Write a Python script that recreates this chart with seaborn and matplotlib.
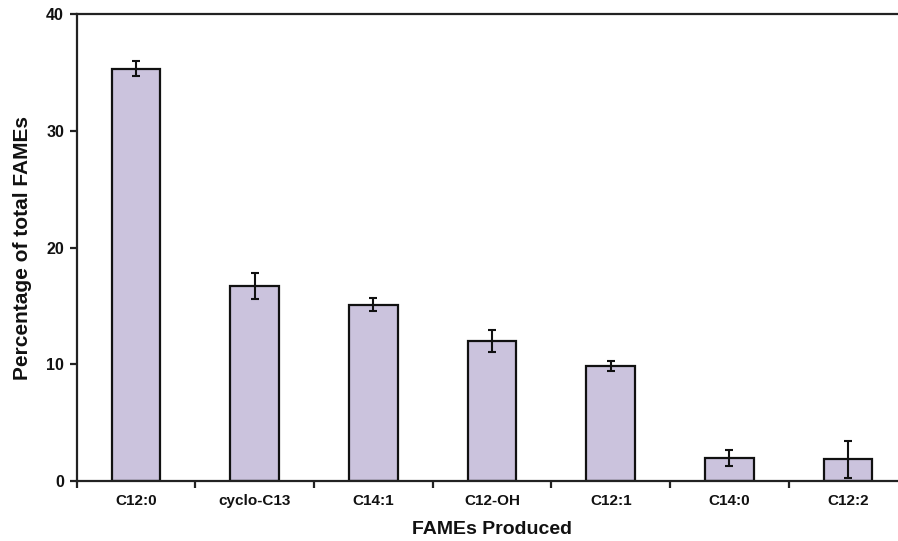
import matplotlib
matplotlib.use("Agg")
import matplotlib.pyplot as plt
from matplotlib.ticker import FixedLocator, NullFormatter
import seaborn as sns
import pandas as pd

fames = ["C12:0", "cyclo-C13", "C14:1", "C12-OH", "C12:1", "C14:0", "C12:2"]
percent = [35.3, 16.7, 15.1, 12.0, 9.85, 1.95, 1.85]
std_err = [0.65, 1.1, 0.55, 0.95, 0.45, 0.7, 1.6]

df = pd.DataFrame({"fame": fames, "percent": percent, "err": std_err})

sns.set_theme(style="white")
plt.rcParams["font.family"] = ["Liberation Sans", "DejaVu Sans"]

fig = plt.figure(figsize=(8.98, 5.41), dpi=100)
ax = fig.add_axes([0.0852, 0.1109, 0.9254, 0.8632])

sns.barplot(data=df, x="fame", y="percent", order=fames, color="#cbc3dd",
            saturation=1, width=0.41, edgecolor="#111111", linewidth=1.6,
            errorbar=None, ax=ax)
ax.errorbar(range(len(fames)), df["percent"], yerr=df["err"], fmt="none",
            ecolor="#111111", elinewidth=1.5, capsize=3, capthick=1.5, zorder=5)

ax.set_xlim(-0.5, len(fames) - 0.5)
ax.set_ylim(0, 40)
ax.set_yticks([0, 10, 20, 30, 40])

# category labels centred, tick marks on the category boundaries
ax.xaxis.set_minor_locator(FixedLocator([i - 0.5 for i in range(len(fames) + 1)]))
ax.xaxis.set_minor_formatter(NullFormatter())
ax.tick_params(axis="x", which="major", length=0, pad=9, labelsize=11)
ax.tick_params(axis="x", which="minor", direction="out", length=5, width=1.6,
               color="#222222", bottom=True)
ax.tick_params(axis="y", which="major", direction="out", length=5, width=1.6,
               color="#222222", left=True, labelsize=11.5, pad=4)
for lab in ax.get_xticklabels() + ax.get_yticklabels():
    lab.set_fontweight("bold")
    lab.set_color("#111111")

for side in ["left", "bottom", "top", "right"]:
    ax.spines[side].set_visible(True)
    ax.spines[side].set_color("#222222")
    ax.spines[side].set_linewidth(1.6)

ax.set_xlabel("FAMEs Produced", fontsize=14, fontweight="bold", color="#111111", labelpad=10)
ax.set_ylabel("Percentage of total FAMEs", fontsize=15, fontweight="bold", color="#111111", labelpad=10)

fig.savefig("out.png", dpi=100)
